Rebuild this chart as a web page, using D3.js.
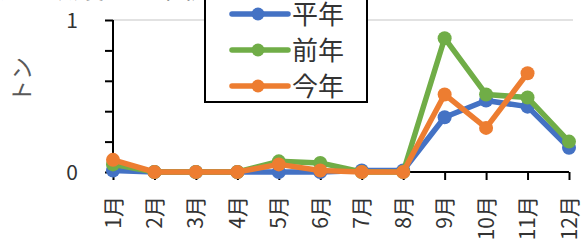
<!DOCTYPE html>
<html><head><meta charset="utf-8">
<script src="https://cdn.jsdelivr.net/npm/d3@7/dist/d3.min.js"></script>
<style>body{margin:0;background:#fff;}svg{display:block;font-family:"Noto Sans CJK JP","Noto Sans",sans-serif;}</style>
</head><body>
<script>
const months = ["1月","2月","3月","4月","5月","6月","7月","8月","9月","10月","11月","12月"];
const heinen = [0.01,0,0,0,0,0,0.01,0.01,0.36,0.47,0.43,0.16];
const zennen = [0.05,0,0,0,0.07,0.06,0,0,0.88,0.51,0.49,0.20];
const konnen = [0.08,0,0,0,0.05,0.01,0,0,0.51,0.29,0.65,null];
const seriesNames = ["平年","前年","今年"];
const colors = ["#4472C4","#70AD47","#ED7D31"];
const yTicks = [0,1];
const yMinor = [0,0.2,0.4,0.6,0.8,1];

const W=582,H=240;
const svg=d3.select("body").append("svg").attr("width",W).attr("height",H);
const x=d3.scalePoint().domain(months).range([113,569]);
const y=d3.scaleLinear().domain([0,1]).range([172,20]);

// partially visible title
svg.append("text").attr("x",0).attr("y",-2).attr("font-size",26).attr("fill","#404040").text("月別漁獲量の推移");

// gridline
svg.append("line").attr("x1",113).attr("x2",573).attr("y1",y(1)).attr("y2",y(1)).attr("stroke","#d9d9d9").attr("stroke-width",1.5);

// y axis
const ya=svg.append("g").attr("transform","translate(113,0)")
 .call(d3.axisLeft(y).tickValues(yMinor).tickSize(8).tickFormat(""));
ya.selectAll("path,line").attr("stroke","#000").attr("stroke-width",2);
ya.select(".domain").attr("d","M0,"+y(0)+"V"+y(1));
svg.append("g").selectAll("text").data(yTicks).join("text")
 .attr("x",78).attr("y",d=>y(d)).attr("dy","0.36em").attr("text-anchor","end")
 .attr("font-size",21).attr("fill","#333").text(d=>d);

// x axis
const xa=svg.append("g").attr("transform","translate(0,"+y(0)+")")
 .call(d3.axisBottom(x).tickSize(8).tickFormat(""));
xa.selectAll("path,line").attr("stroke","#000").attr("stroke-width",2);
xa.select(".domain").attr("d","M113,0H569");
svg.append("g").selectAll("text").data(months).join("text")
 .attr("transform",d=>"translate("+x(d)+",196) rotate(-90)")
 .attr("text-anchor","end").attr("dy","0.36em").attr("font-size",21).attr("fill","#333").text(d=>d);

// y title
svg.append("text").attr("transform","translate(22,80) rotate(-90)").attr("text-anchor","middle")
 .attr("dy","0.35em").attr("font-size",23).attr("fill","#595959").text("トン");

// series
const data=[heinen,zennen,konnen];
const line=d3.line().defined(d=>d!=null).x((d,i)=>x(months[i])).y(d=>y(d));
data.forEach((s,k)=>{
  svg.append("path").attr("d",line(s)).attr("fill","none").attr("stroke",colors[k]).attr("stroke-width",5.5).attr("stroke-linejoin","round");
  svg.append("g").selectAll("circle").data(s.map((v,i)=>({v,i})).filter(d=>d.v!=null)).join("circle")
   .attr("cx",d=>x(months[d.i])).attr("cy",d=>y(d.v)).attr("r",7).attr("fill",colors[k]);
});

// legend
svg.append("rect").attr("x",205).attr("y",-10).attr("width",162).attr("height",112).attr("fill","#fff").attr("stroke","#000").attr("stroke-width",2);
seriesNames.forEach((n,k)=>{
  const cy=14+k*36;
  svg.append("line").attr("x1",232).attr("x2",288).attr("y1",cy).attr("y2",cy).attr("stroke",colors[k]).attr("stroke-width",5.5).attr("stroke-linecap","round");
  svg.append("circle").attr("cx",258).attr("cy",cy).attr("r",6.5).attr("fill",colors[k]);
  svg.append("text").attr("x",292).attr("y",cy+1).attr("dy","0.36em").attr("font-size",26).attr("fill","#333").text(n);
});
</script>
</body></html>
